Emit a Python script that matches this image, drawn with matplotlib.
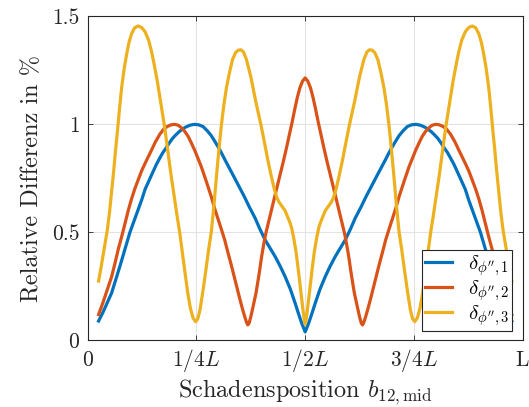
import matplotlib
matplotlib.use("Agg")
import matplotlib.pyplot as plt

# values (x as fraction of beam length L, y in %)
x_blue = [0.025, 0.035, 0.045, 0.055, 0.065, 0.075, 0.086, 0.097, 0.106, 0.115,
          0.124, 0.132, 0.141, 0.15, 0.158, 0.166, 0.173, 0.18, 0.188, 0.195,
          0.203, 0.21, 0.218, 0.225, 0.235, 0.245, 0.255, 0.265, 0.275, 0.284,
          0.292, 0.30, 0.308, 0.315, 0.325, 0.334, 0.347, 0.36, 0.372, 0.385,
          0.396, 0.408, 0.42, 0.431, 0.443, 0.454, 0.466, 0.477, 0.485, 0.492,
          0.497, 0.5,
          0.503, 0.508, 0.515, 0.523, 0.534, 0.546, 0.557, 0.569, 0.58, 0.592,
          0.604, 0.615, 0.628, 0.64, 0.653, 0.666, 0.675, 0.685, 0.692, 0.70,
          0.708, 0.716, 0.725, 0.735, 0.745, 0.755, 0.765, 0.775, 0.782, 0.79,
          0.797, 0.805, 0.812, 0.82, 0.827, 0.834, 0.842, 0.85, 0.859, 0.868,
          0.876, 0.885, 0.894, 0.903, 0.914, 0.925, 0.935, 0.945, 0.955, 0.965,
          0.975]
y_blue = [0.09, 0.13, 0.175, 0.22, 0.285, 0.35, 0.425, 0.50, 0.55, 0.60,
          0.65, 0.70, 0.74, 0.78, 0.815, 0.845, 0.87, 0.89, 0.915, 0.935,
          0.952, 0.966, 0.978, 0.987, 0.996, 1.0, 0.998, 0.99, 0.97, 0.948,
          0.922, 0.895, 0.866, 0.838, 0.80, 0.766, 0.716, 0.666, 0.616, 0.566,
          0.515, 0.465, 0.425, 0.388, 0.342, 0.295, 0.237, 0.172, 0.122, 0.08,
          0.055, 0.04,
          0.055, 0.08, 0.122, 0.172, 0.237, 0.295, 0.342, 0.388, 0.425, 0.465,
          0.515, 0.566, 0.616, 0.666, 0.716, 0.766, 0.80, 0.838, 0.866, 0.895,
          0.922, 0.948, 0.97, 0.99, 0.998, 1.0, 0.996, 0.987, 0.978, 0.966,
          0.952, 0.935, 0.915, 0.89, 0.87, 0.845, 0.815, 0.78, 0.74, 0.70,
          0.65, 0.60, 0.55, 0.50, 0.425, 0.35, 0.285, 0.22, 0.175, 0.13,
          0.09]

x_red = [0.025, 0.035, 0.045, 0.055, 0.063, 0.07, 0.078, 0.086, 0.093, 0.10,
         0.108, 0.116, 0.124, 0.132, 0.14, 0.147, 0.156, 0.166, 0.175, 0.183,
         0.192, 0.2, 0.208, 0.215, 0.223, 0.231, 0.238, 0.246, 0.253, 0.261,
         0.272, 0.284, 0.292, 0.30, 0.308, 0.315, 0.322, 0.33, 0.34, 0.35,
         0.356, 0.361, 0.365, 0.368, 0.371, 0.375, 0.38, 0.387, 0.395, 0.40,
         0.406, 0.41, 0.42, 0.43, 0.44, 0.45, 0.458, 0.465, 0.47, 0.476,
         0.482, 0.488, 0.494, 0.5,
         0.506, 0.512, 0.518, 0.524, 0.53, 0.535, 0.542, 0.55, 0.56, 0.57,
         0.58, 0.59, 0.594, 0.6, 0.605, 0.613, 0.62, 0.625, 0.629, 0.632,
         0.635, 0.639, 0.644, 0.65, 0.66, 0.67, 0.678, 0.685, 0.692, 0.70,
         0.708, 0.716, 0.728, 0.739, 0.747, 0.754, 0.762, 0.769, 0.777, 0.785,
         0.792, 0.8, 0.808, 0.817, 0.825, 0.834, 0.844, 0.853, 0.86, 0.868,
         0.876, 0.884, 0.892, 0.90, 0.907, 0.914, 0.922, 0.93, 0.937, 0.945,
         0.955, 0.965, 0.975]
y_red = [0.12, 0.175, 0.235, 0.295, 0.36, 0.42, 0.48, 0.543, 0.6, 0.65,
         0.70, 0.743, 0.785, 0.82, 0.853, 0.882, 0.92, 0.955, 0.978, 0.99,
         0.998, 1.0, 0.996, 0.985, 0.968, 0.944, 0.915, 0.88, 0.845, 0.805,
         0.74, 0.666, 0.61, 0.56, 0.51, 0.465, 0.41, 0.35, 0.27, 0.19,
         0.145, 0.11, 0.085, 0.072, 0.08, 0.11, 0.155, 0.22, 0.32, 0.39,
         0.46, 0.50, 0.583, 0.666, 0.748, 0.83, 0.90, 0.965, 1.01, 1.07,
         1.125, 1.17, 1.2, 1.215,
         1.2, 1.17, 1.125, 1.07, 1.01, 0.965, 0.90, 0.83, 0.748, 0.666,
         0.583, 0.50, 0.46, 0.39, 0.32, 0.22, 0.155, 0.11, 0.08, 0.072,
         0.085, 0.11, 0.145, 0.19, 0.27, 0.35, 0.41, 0.465, 0.51, 0.56,
         0.61, 0.666, 0.74, 0.805, 0.845, 0.88, 0.915, 0.944, 0.968, 0.985,
         0.996, 1.0, 0.998, 0.99, 0.978, 0.955, 0.92, 0.882, 0.853, 0.82,
         0.785, 0.743, 0.70, 0.65, 0.6, 0.543, 0.48, 0.42, 0.36, 0.295,
         0.235, 0.175, 0.12]

x_yellow = [0.025, 0.03, 0.035, 0.04, 0.045, 0.05, 0.055, 0.06, 0.064, 0.068,
            0.073, 0.078, 0.084, 0.09, 0.095, 0.101, 0.108, 0.116, 0.124, 0.132,
            0.14, 0.147, 0.153, 0.16, 0.168, 0.177, 0.184, 0.192, 0.2, 0.206,
            0.2115, 0.218, 0.224, 0.23, 0.236, 0.242, 0.248, 0.253, 0.258, 0.265,
            0.272, 0.278, 0.284, 0.29, 0.296, 0.302, 0.307, 0.313, 0.319, 0.326,
            0.333, 0.34, 0.346, 0.352, 0.358, 0.365, 0.37, 0.375, 0.381, 0.387,
            0.393, 0.398, 0.406, 0.414, 0.421, 0.429, 0.435, 0.44, 0.447, 0.454,
            0.46, 0.465, 0.469, 0.474, 0.479, 0.484, 0.488, 0.492, 0.495, 0.498,
            0.5,
            0.502, 0.505, 0.508, 0.512, 0.516, 0.521, 0.526, 0.531, 0.535, 0.54,
            0.546, 0.553, 0.56, 0.565, 0.571, 0.579, 0.586, 0.594, 0.602, 0.607,
            0.613, 0.619, 0.625, 0.63, 0.635, 0.642, 0.648, 0.654, 0.66, 0.667,
            0.674, 0.681, 0.687, 0.693, 0.698, 0.704, 0.71, 0.716, 0.722, 0.728,
            0.735, 0.742, 0.747, 0.752, 0.758, 0.764, 0.77, 0.776, 0.782, 0.7885,
            0.794, 0.8, 0.808, 0.816, 0.823, 0.832, 0.84, 0.847, 0.853, 0.86,
            0.868, 0.876, 0.884, 0.892, 0.899, 0.905, 0.91, 0.916, 0.922, 0.927,
            0.932, 0.936, 0.94, 0.945, 0.95, 0.955, 0.96, 0.965, 0.97, 0.975]
y_yellow = [0.275, 0.33, 0.39, 0.45, 0.51, 0.59, 0.69, 0.79, 0.88, 0.96,
            1.07, 1.17, 1.26, 1.33, 1.38, 1.42, 1.447, 1.455, 1.448, 1.428,
            1.39, 1.335, 1.275, 1.2, 1.1, 0.985, 0.88, 0.76, 0.65, 0.57,
            0.5, 0.4, 0.31, 0.22, 0.15, 0.105, 0.087, 0.1, 0.14, 0.23,
            0.33, 0.42, 0.5, 0.62, 0.76, 0.89, 0.99, 1.09, 1.17, 1.24,
            1.3, 1.332, 1.343, 1.345, 1.335, 1.3, 1.26, 1.22, 1.16, 1.10,
            1.045, 1.0, 0.92, 0.836, 0.77, 0.70, 0.66, 0.64, 0.62, 0.60,
            0.57, 0.545, 0.52, 0.47, 0.41, 0.33, 0.26, 0.19, 0.14, 0.095,
            0.075,
            0.095, 0.14, 0.19, 0.26, 0.33, 0.41, 0.47, 0.52, 0.545, 0.57,
            0.60, 0.62, 0.64, 0.66, 0.70, 0.77, 0.836, 0.92, 1.0, 1.045,
            1.10, 1.16, 1.22, 1.26, 1.3, 1.335, 1.345, 1.343, 1.332, 1.3,
            1.24, 1.17, 1.09, 0.99, 0.89, 0.76, 0.62, 0.5, 0.42, 0.33,
            0.23, 0.14, 0.1, 0.087, 0.105, 0.15, 0.22, 0.31, 0.4, 0.5,
            0.57, 0.65, 0.76, 0.88, 0.985, 1.1, 1.2, 1.275, 1.335, 1.39,
            1.428, 1.448, 1.455, 1.447, 1.42, 1.38, 1.33, 1.26, 1.17, 1.07,
            0.96, 0.88, 0.79, 0.69, 0.59, 0.51, 0.45, 0.39, 0.33, 0.275]

series = [
    (x_blue, y_blue, "#0072BD", r"$\delta_{\phi^{\prime\prime},1}$"),
    (x_red, y_red, "#D95319", r"$\delta_{\phi^{\prime\prime},2}$"),
    (x_yellow, y_yellow, "#EDB120", r"$\delta_{\phi^{\prime\prime},3}$"),
]

x_ticks = [0, 0.25, 0.5, 0.75, 1.0]
x_ticklabels = ["0", r"$1/4L$", r"$1/2L$", r"$3/4L$", r"$\mathrm{L}$"]
y_ticks = [0, 0.5, 1, 1.5]
y_ticklabels = ["0", "0.5", "1", "1.5"]

plt.rcParams["font.family"] = "cmr10"
plt.rcParams["mathtext.fontset"] = "cm"
plt.rcParams["axes.unicode_minus"] = False

fig = plt.figure(figsize=(5.29, 4.07), dpi=100)
ax = fig.add_axes([0.1658, 0.1634, 0.8222, 0.7966])

for x, y, c, lab in series:
    ax.plot(x, y, color=c, lw=2.3, label=lab)

ax.set_xlim(0, 1)
ax.set_ylim(0, 1.5)
ax.set_xticks(x_ticks)
ax.set_xticklabels(x_ticklabels)
ax.set_yticks(y_ticks)
ax.set_yticklabels(y_ticklabels)
ax.grid(True, color="#e3e3e3", lw=0.8)
ax.set_axisbelow(True)
ax.tick_params(direction="in", top=True, right=True, length=3.6, width=0.6,
               color="#262626", labelsize=15.5, labelcolor="#262626")
ax.tick_params(axis="y", pad=6)
# baseline-align x tick labels so the plain "L" sits level with "1/4L"
ax.tick_params(axis="x", pad=18.5)
for lab in ax.get_xticklabels():
    lab.set_verticalalignment("baseline")
for sp in ax.spines.values():
    sp.set_color("#262626")
    sp.set_linewidth(0.8)

ax.set_xlabel(r"Schadensposition $b_{12,\mathrm{mid}}$", fontsize=17.5,
              color="#262626", labelpad=2)
ax.set_ylabel("Relative Differenz in %", fontsize=17.5, color="#262626",
              labelpad=6)

leg = ax.legend(loc="lower right", bbox_to_anchor=(0.976, 0.029),
                borderaxespad=0, fontsize=15, frameon=True, fancybox=False,
                handlelength=1.3, handletextpad=0.75, labelspacing=0.0,
                borderpad=0.15)
leg.get_frame().set_edgecolor("#262626")
leg.get_frame().set_linewidth(0.8)
leg.get_frame().set_alpha(1)

fig.savefig("out.png", dpi=100)
